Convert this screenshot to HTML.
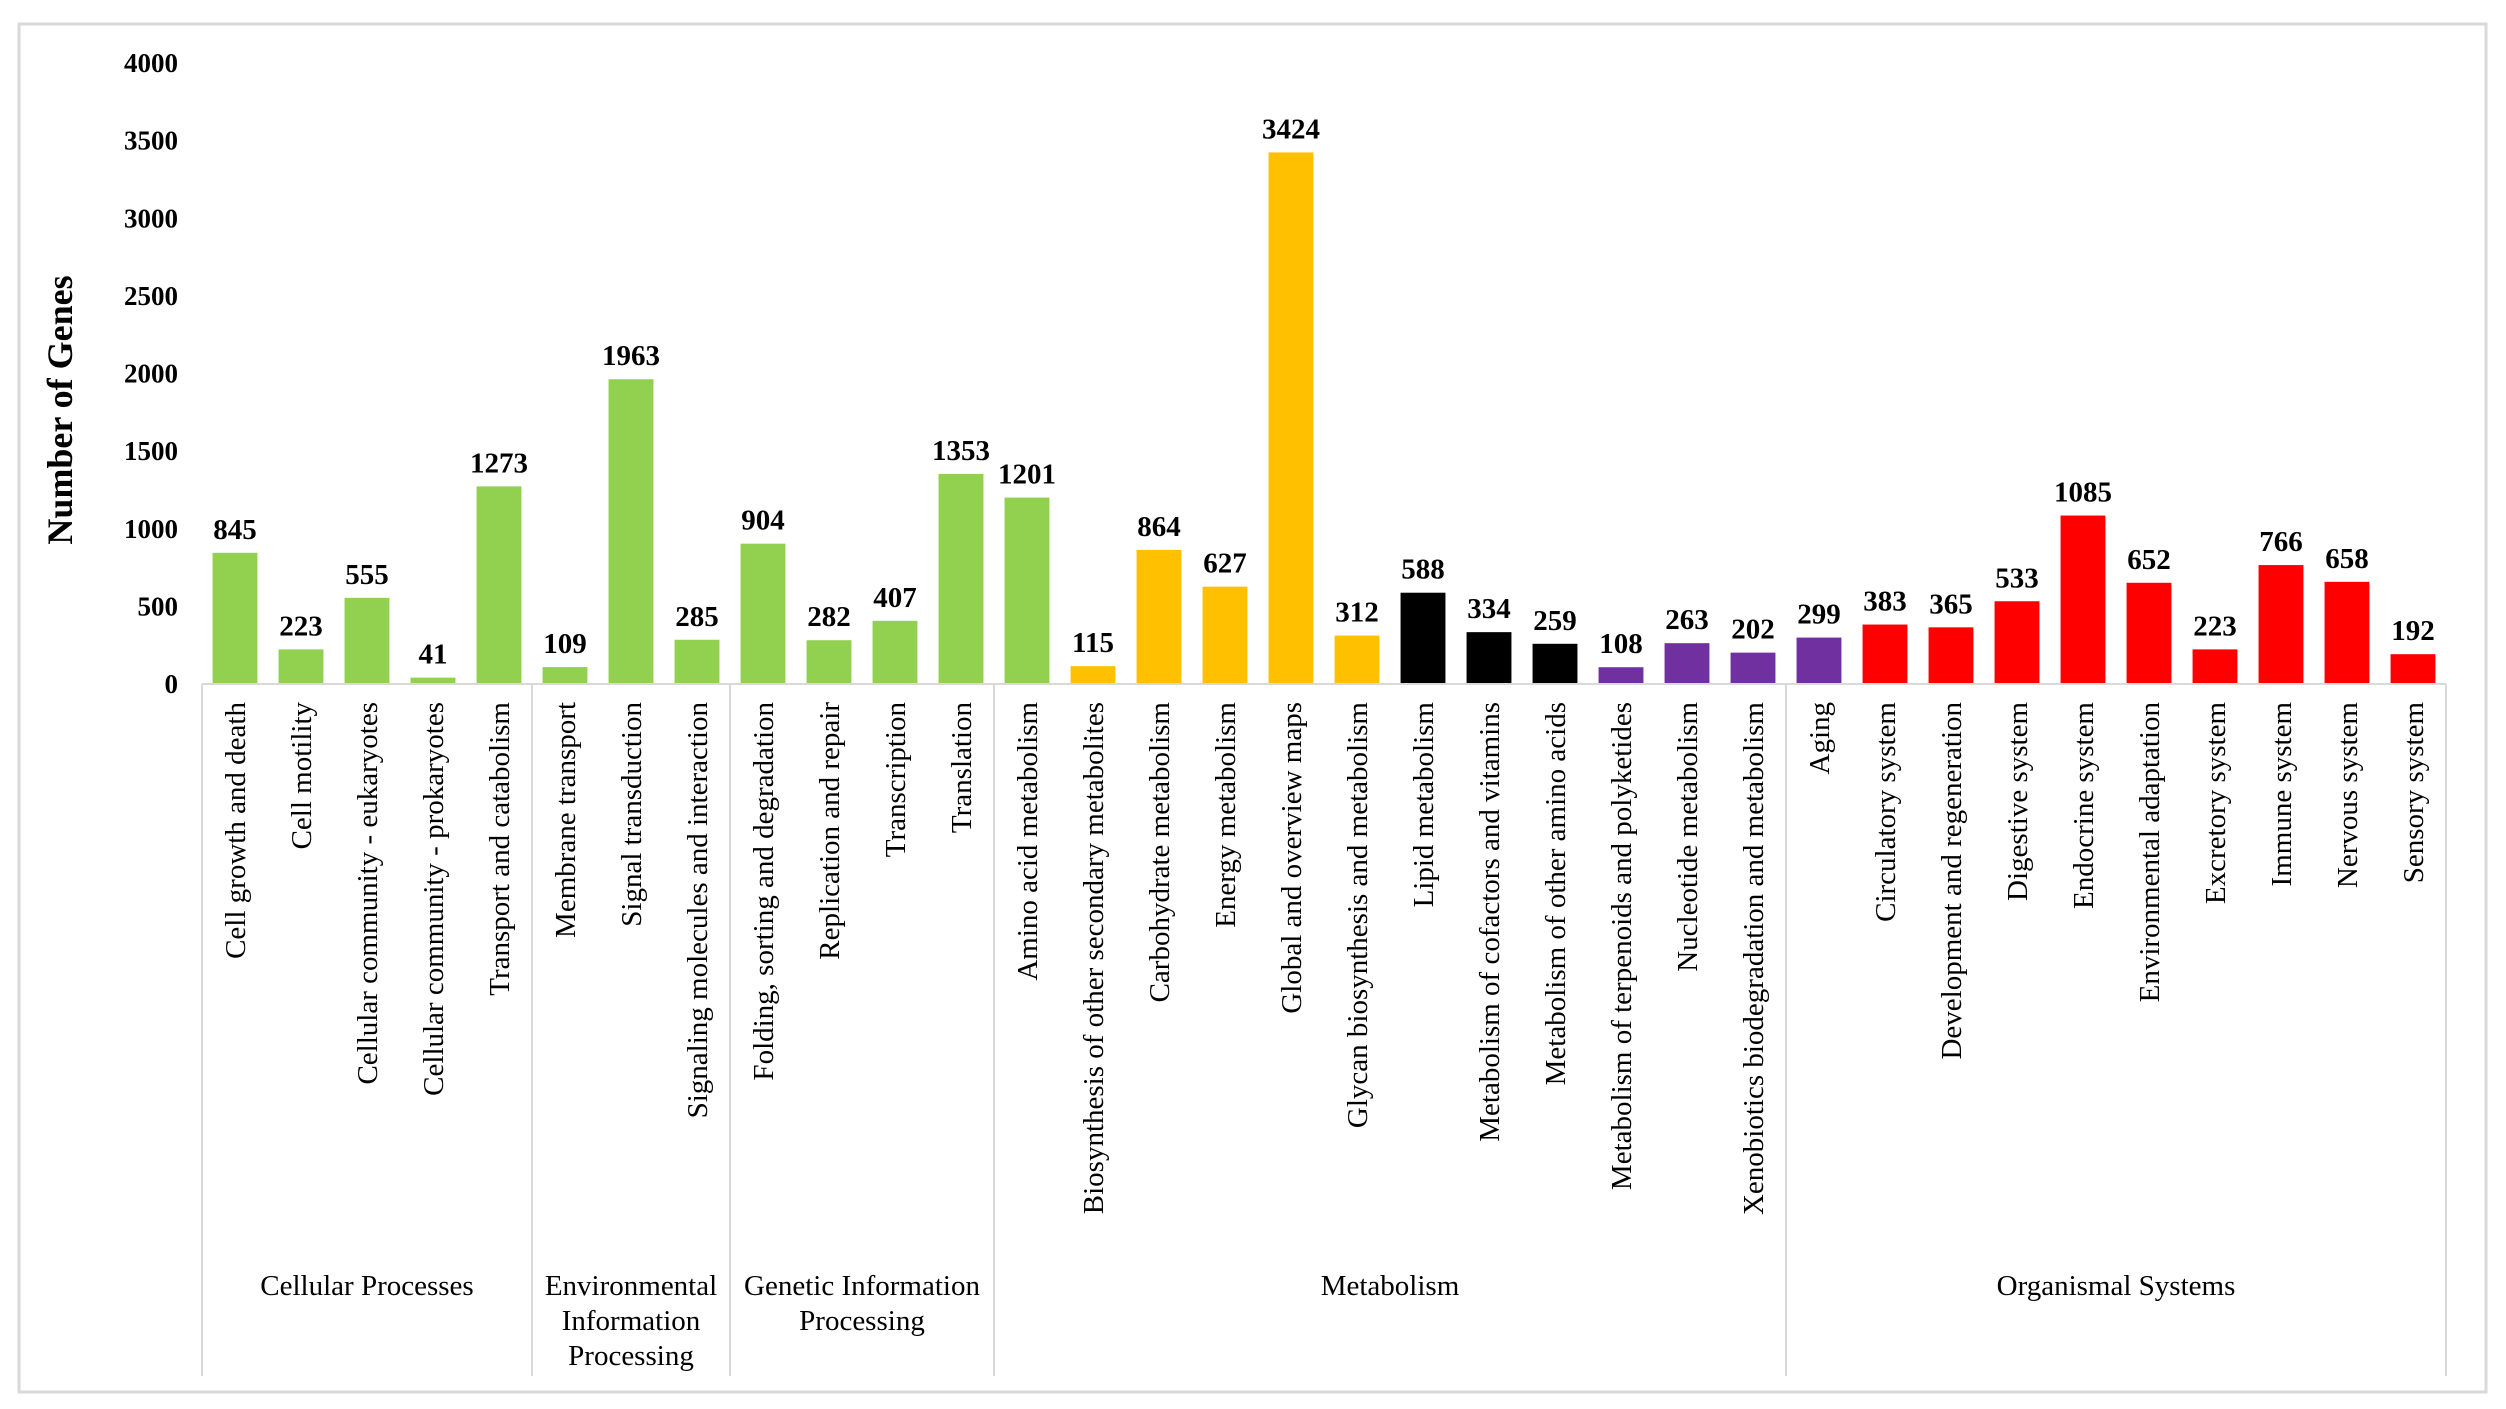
<!DOCTYPE html>
<html><head><meta charset="utf-8"><style>
html,body{margin:0;padding:0;background:#fff;width:2506px;height:1409px;overflow:hidden}
svg{display:block;font-family:"Liberation Serif",serif}
</style></head><body>
<svg id="chart" width="2506" height="1409" viewBox="0 0 2506 1409" xmlns="http://www.w3.org/2000/svg">
<rect x="19" y="24" width="2467" height="1368" fill="#fff" stroke="#d9d9d9" stroke-width="3"/>
<g id="plot"></g>
</svg>
<script>
const categories = ["Cell growth and death","Cell motility","Cellular community - eukaryotes","Cellular community - prokaryotes","Transport and catabolism","Membrane transport","Signal transduction","Signaling molecules and interaction","Folding, sorting and degradation","Replication and repair","Transcription","Translation","Amino acid metabolism","Biosynthesis of other secondary metabolites","Carbohydrate metabolism","Energy metabolism","Global and overview maps","Glycan biosynthesis and metabolism","Lipid metabolism","Metabolism of cofactors and vitamins","Metabolism of other amino acids","Metabolism of terpenoids and polyketides","Nucleotide metabolism","Xenobiotics biodegradation and metabolism","Aging","Circulatory system","Development and regeneration","Digestive system","Endocrine system","Environmental adaptation","Excretory system","Immune system","Nervous system","Sensory system"];
const values = [845,223,555,41,1273,109,1963,285,904,282,407,1353,1201,115,864,627,3424,312,588,334,259,108,263,202,299,383,365,533,1085,652,223,766,658,192];
const colorGroups = ["g","g","g","g","g","g","g","g","g","g","g","g","g","o","o","o","o","o","k","k","k","p","p","p","p","r","r","r","r","r","r","r","r","r"];
const groupNames = [["Cellular Processes"],["Environmental","Information","Processing"],["Genetic Information","Processing"],["Metabolism"],["Organismal Systems"]];
const groupSizes = [5,3,4,12,10];
const yTicks = [0,500,1000,1500,2000,2500,3000,3500,4000];
const palette = {g:"#92D050",o:"#FFC000",k:"#000000",p:"#7030A0",r:"#FF0000"};

const NS="http://www.w3.org/2000/svg";
const g=document.getElementById('plot');
const X0=202,X1=2446,Y0=684,YT=63,YMAX=4000;
const slot=(X1-X0)/categories.length;
const yS=v=>Y0-(v/YMAX)*(Y0-YT);
const xC=i=>X0+slot*(i+0.5);
function mk(tag,attrs,txt){const e=document.createElementNS(NS,tag);for(const k in attrs)e.setAttribute(k,attrs[k]);if(txt!==undefined)e.textContent=txt;g.appendChild(e);return e;}

yTicks.forEach(t=>{
  const e=mk('text',{x:178,y:yS(t)+9,'text-anchor':'end','font-size':27,'font-weight':'bold',fill:'#000'},t);
  
  
});
const yt=mk('text',{x:0,y:0,transform:'translate(72,410) rotate(-90)','text-anchor':'middle','font-size':36,'font-weight':'bold',fill:'#000'},'Number of Genes');



const bw=slot*0.68;
values.forEach((v,i)=>{
  const r=mk('rect',{x:xC(i)-bw/2,y:yS(v),width:bw,height:Y0-yS(v),fill:palette[colorGroups[i]]});
  
  
  const l=mk('text',{x:xC(i),y:yS(v)-14,'text-anchor':'middle','font-size':29,'font-weight':'bold',fill:'#000'},v);
  
  
  const c=mk('text',{x:0,y:0,transform:`translate(${xC(i)+10},702) rotate(-90)`,'text-anchor':'end','font-size':29,fill:'#000'},categories[i]);
  
  
});
const ax=mk('line',{x1:X0,y1:Y0,x2:X1,y2:Y0,stroke:'#d9d9d9','stroke-width':2});



let start=0;
const bounds=[0];
groupSizes.forEach(s=>{start+=s;bounds.push(start);});
bounds.forEach(b=>{
  const ln=mk('line',{x1:X0+b*slot,y1:Y0,x2:X0+b*slot,y2:1376,stroke:'#d9d9d9','stroke-width':2});
  
  
});
groupNames.forEach((lines,gi)=>{
  const cx=X0+slot*(bounds[gi]+bounds[gi+1])/2;
  lines.forEach((t,li)=>{
    const e=mk('text',{x:cx,y:1295+li*35,'text-anchor':'middle','font-size':29,fill:'#000'},t);
    
    
  });
});
</script>
</body></html>
